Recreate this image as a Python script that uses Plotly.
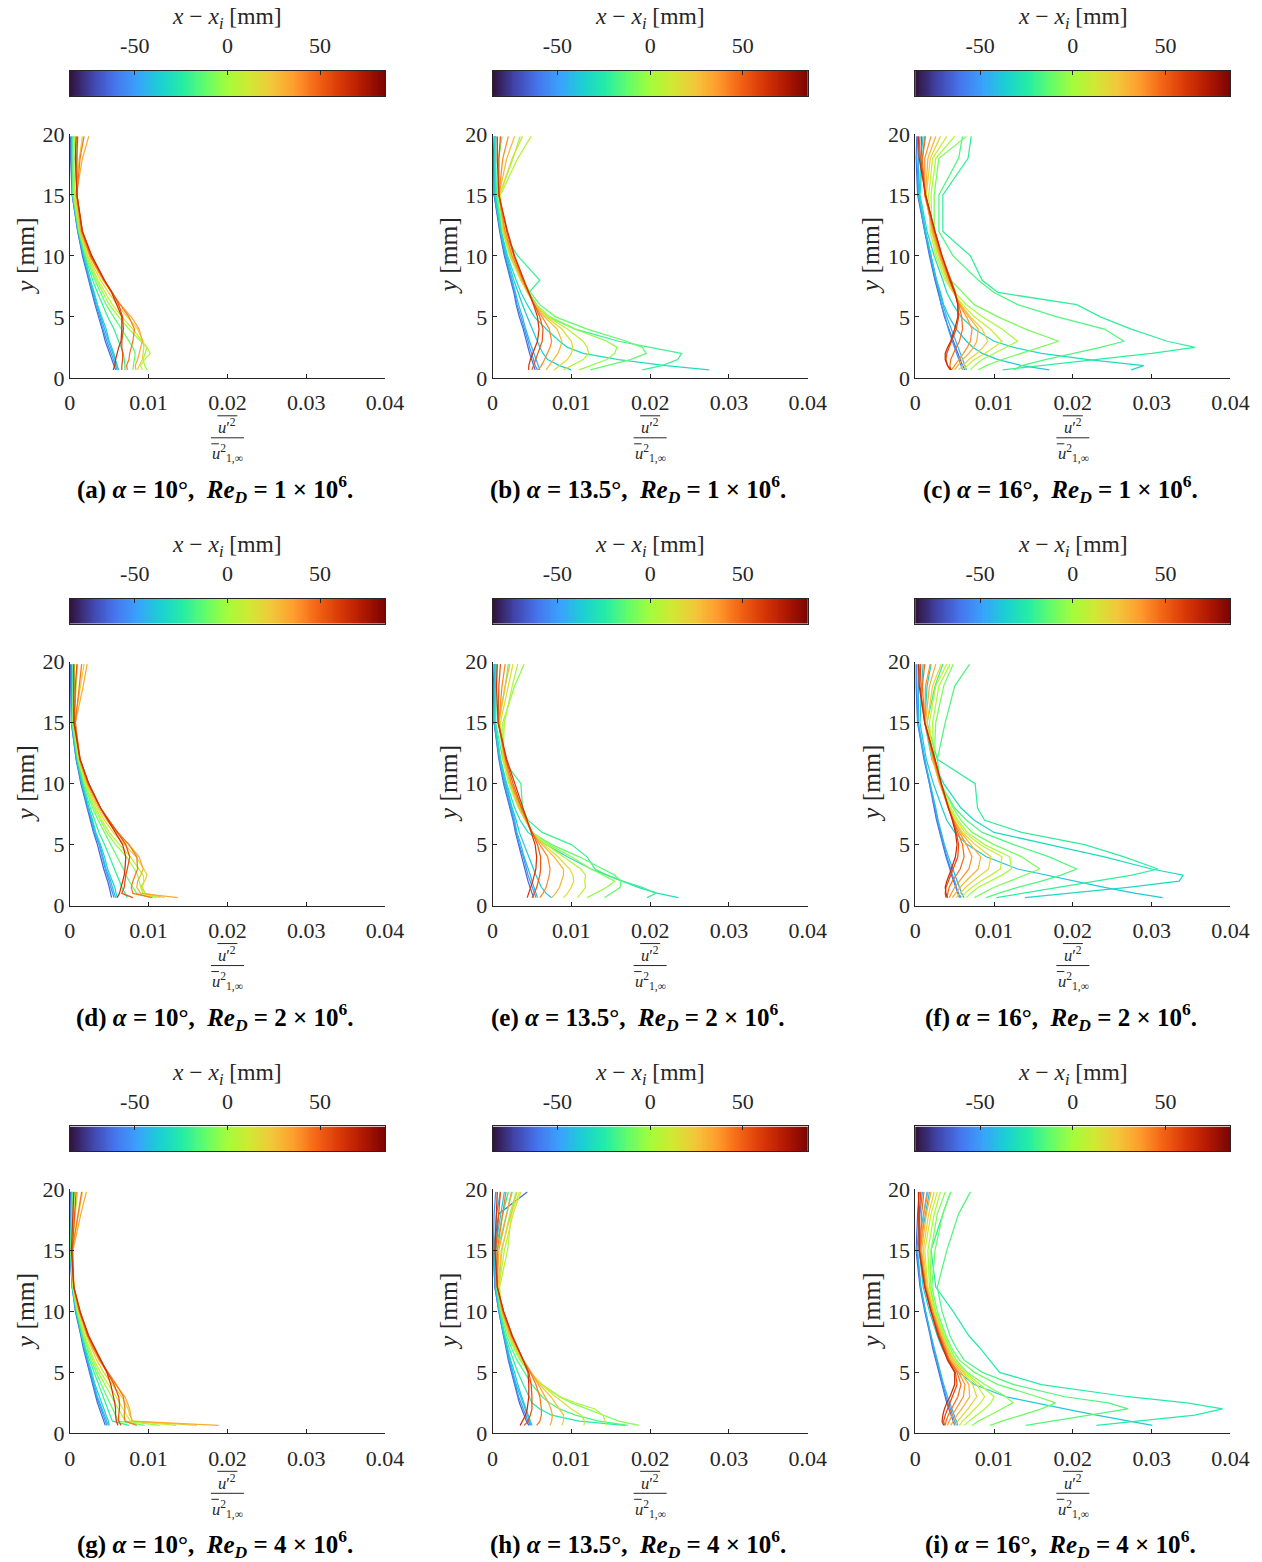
import numpy as np
import plotly.graph_objects as go
from plotly.colors import sample_colorscale

# page layout: positions below are given in page pixels and mapped onto the
# figure canvas with a linear placement (scale, offset) per direction
PAGE_SX, PAGE_OX = 0.980, 5.2
PAGE_SY, PAGE_OY = 0.9846, 11.0
W, H = 1283, 1576
SERIF = "Liberation Serif"
INK = "#262626"

# wall-normal stations shared by all profiles [mm]
y_mm = [0.65, 1.0, 1.5, 2.0, 2.5, 3.0, 4.0, 5.0, 6.0, 7.0, 8.0, 10.0, 12.0, 15.0, 18.0, 19.8]

# colour variable range x - x_i [mm]
xi_min, xi_max = -85, 85
cb_ticks = [-50, 0, 50]
cb_ticktext = ["-50", "0", "50"]
x_ticks = [0, 0.01, 0.02, 0.03, 0.04]
x_ticktext = ["0", "0.01", "0.02", "0.03", "0.04"]
y_ticks = [0, 5, 10, 15, 20]

# ---- profiles of u'^2 / u_inf^2, stored in units of 1e-3 ----
# (a) alpha = 10 deg, Re_D = 1e6
pos_a = [-64, -52, -43, -34, -22, -12, -2, 8, 20, 32, 44, 54, 64]
u2_a = [
    [5.8, 5.6, 5.3, 5.0, 4.8, 4.5, 4.1, 3.6, 3.2, 2.8, 2.4, 1.6, 1.0, 0.3, 0.1, 0.1],
    [6.0, 5.8, 5.5, 5.2, 4.9, 4.7, 4.2, 3.8, 3.3, 2.9, 2.5, 1.7, 1.0, 0.3, 0.2, 0.2],
    [6.2, 6.0, 5.7, 5.4, 5.1, 4.9, 4.4, 3.9, 3.4, 3.0, 2.6, 1.8, 1.1, 0.4, 0.3, 0.3],
    [6.0, 6.0, 5.8, 5.6, 5.3, 5.0, 4.6, 4.0, 3.5, 3.1, 2.6, 1.8, 1.1, 0.4, 0.9, 0.5],
    [7.0, 7.0, 6.9, 6.8, 6.5, 6.2, 5.6, 4.8, 4.1, 3.5, 2.9, 1.9, 1.1, 0.4, 0.3, 0.3],
    [8.0, 8.1, 8.2, 8.3, 8.0, 7.5, 6.6, 5.6, 4.6, 3.9, 3.2, 2.0, 1.2, 0.4, 0.4, 0.4],
    [9.8, 9.5, 9.3, 9.6, 9.8, 9.0, 7.5, 6.2, 5.0, 4.2, 3.4, 2.1, 1.2, 0.5, 0.5, 0.6],
    [9.2, 9.0, 9.5, 10.2, 9.8, 9.2, 8.0, 6.6, 5.4, 4.5, 3.6, 2.2, 1.3, 0.6, 0.7, 0.9],
    [8.6, 8.8, 9.2, 9.3, 9.4, 9.3, 8.6, 7.3, 6.0, 4.9, 3.9, 2.3, 1.3, 0.7, 1.2, 1.6],
    [8.4, 8.3, 8.6, 8.8, 9.0, 9.2, 8.8, 7.8, 6.4, 5.3, 4.2, 2.5, 1.4, 0.8, 1.6, 2.4],
    [7.3, 7.2, 7.5, 7.6, 7.8, 8.0, 8.2, 7.5, 6.4, 5.4, 4.3, 2.6, 1.5, 0.9, 1.3, 1.8],
    [6.6, 6.6, 6.7, 6.7, 6.6, 6.6, 6.8, 6.7, 6.2, 5.4, 4.4, 2.7, 1.6, 0.9, 0.9, 1.0],
    [5.5, 5.7, 5.8, 6.0, 6.2, 6.5, 6.6, 6.6, 6.0, 5.3, 4.4, 2.8, 1.6, 0.9, 0.7, 0.8],
]

# (b) alpha = 13.5 deg, Re_D = 1e6
pos_b = [-64, -52, -43, -38, -30, -20, -12, -4, 6, 16, 28, 40, 52, 62]
u2_b = [
    [5.4, 5.2, 5.0, 4.7, 4.5, 4.3, 3.9, 3.4, 3.0, 2.7, 2.3, 1.5, 0.9, 0.2, 0.1, 0.2],
    [5.7, 5.4, 5.2, 4.9, 4.7, 4.5, 4.0, 3.6, 3.1, 2.8, 2.4, 1.6, 1.0, 0.2, 0.2, 0.3],
    [6.0, 5.8, 5.5, 5.2, 5.0, 4.7, 4.2, 3.8, 3.3, 2.9, 2.5, 1.7, 1.0, 0.3, 0.3, 0.4],
    [10.0, 8.5, 7.0, 6.4, 6.0, 5.7, 5.0, 4.4, 3.8, 3.2, 2.7, 1.8, 1.1, 0.3, 0.3, 0.3],
    [27.5, 22.0, 16.0, 11.5, 9.5, 8.5, 6.8, 5.3, 4.4, 3.6, 3.0, 1.9, 1.1, 0.4, 0.3, 0.3],
    [19.0, 21.5, 23.5, 24.0, 20.0, 16.0, 10.5, 7.0, 5.6, 4.6, 6.0, 3.2, 1.2, 0.5, 0.4, 0.4],
    [12.4, 14.5, 17.5, 19.5, 19.0, 17.0, 12.0, 8.0, 6.0, 4.8, 3.8, 2.3, 1.3, 0.6, 0.8, 1.2],
    [11.0, 12.5, 14.5, 15.5, 15.8, 14.5, 10.5, 7.3, 5.5, 4.5, 3.6, 2.2, 1.3, 0.9, 2.6, 3.5],
    [9.0, 10.0, 11.5, 12.2, 12.0, 11.5, 9.5, 7.0, 5.5, 4.5, 3.6, 2.2, 1.3, 1.0, 3.2, 4.9],
    [7.8, 8.5, 9.5, 10.0, 10.2, 10.0, 8.8, 6.8, 5.4, 4.4, 3.6, 2.3, 1.4, 0.9, 2.5, 3.8],
    [6.8, 7.2, 7.8, 8.3, 8.6, 8.8, 8.2, 6.6, 5.4, 4.5, 3.7, 2.4, 1.5, 0.8, 1.8, 2.8],
    [5.8, 6.2, 6.6, 7.0, 7.3, 7.5, 7.2, 6.3, 5.3, 4.5, 3.8, 2.5, 1.6, 0.8, 1.3, 2.0],
    [5.0, 5.2, 5.5, 5.8, 6.1, 6.3, 6.4, 6.0, 5.3, 4.6, 3.9, 2.7, 1.8, 0.8, 0.8, 1.0],
    [4.6, 4.6, 4.8, 5.1, 5.4, 5.7, 5.9, 5.7, 5.2, 4.6, 3.9, 2.8, 1.9, 0.8, 0.6, 0.6],
]

# (c) alpha = 16 deg, Re_D = 1e6
pos_c = [-64, -52, -43, -38, -32, -22, -16, -8, 0, 10, 20, 30, 38, 46, 55, 65]
u2_c = [
    [6.3, 6.0, 5.7, 5.4, 5.1, 4.8, 4.3, 3.7, 3.3, 2.9, 2.5, 1.8, 1.2, 0.3, 0.1, 0.2],
    [6.0, 5.8, 5.5, 5.2, 5.0, 4.7, 4.2, 3.8, 3.3, 3.0, 2.6, 1.9, 1.2, 0.4, 0.2, 0.3],
    [6.5, 6.3, 6.0, 5.7, 5.4, 5.1, 4.5, 4.0, 3.5, 3.1, 2.7, 2.0, 1.3, 0.4, 0.4, 0.6],
    [17.0, 13.5, 10.5, 8.5, 7.3, 6.5, 5.2, 4.3, 3.6, 3.2, 2.7, 2.0, 1.3, 0.5, 0.7, 1.0],
    [27.4, 29.0, 22.0, 16.0, 12.5, 10.0, 7.5, 5.8, 4.8, 4.0, 3.5, 2.4, 1.5, 0.6, 0.9, 1.2],
    [11.1, 15.6, 22.8, 30.0, 35.5, 32.0, 27.4, 23.5, 20.5, 10.5, 8.5, 7.0, 3.5, 3.5, 6.7, 7.1],
    [12.5, 13.5, 16.5, 20.0, 23.5, 26.5, 24.0, 18.0, 13.0, 10.0, 8.0, 4.8, 3.0, 3.0, 5.5, 6.0],
    [8.0, 9.0, 11.0, 13.5, 16.0, 18.2, 14.0, 10.5, 7.5, 6.0, 4.5, 3.2, 2.4, 2.4, 3.0, 6.5],
    [7.0, 7.5, 8.5, 10.0, 11.5, 13.0, 11.0, 8.5, 6.5, 5.0, 4.0, 2.8, 2.1, 2.0, 2.6, 5.0],
    [6.0, 6.6, 7.5, 8.8, 10.0, 11.0, 9.5, 7.5, 6.0, 4.8, 3.8, 2.6, 1.9, 1.7, 2.2, 4.0],
    [5.5, 6.0, 6.8, 7.8, 8.6, 9.2, 8.5, 7.0, 5.8, 4.9, 4.1, 3.0, 2.1, 1.4, 1.9, 3.2],
    [5.0, 5.4, 6.0, 6.8, 7.4, 7.8, 8.0, 6.8, 5.7, 4.9, 4.2, 3.1, 2.2, 1.3, 1.6, 2.6],
    [4.6, 5.0, 5.5, 6.1, 6.6, 7.0, 7.2, 6.5, 5.6, 4.9, 4.3, 3.2, 2.3, 1.2, 1.2, 2.0],
    [4.5, 4.4, 4.5, 4.8, 5.2, 5.6, 6.0, 5.9, 5.5, 5.0, 4.4, 3.3, 2.4, 1.2, 0.9, 1.3],
    [4.4, 4.1, 3.9, 4.0, 4.3, 4.6, 5.2, 5.5, 5.4, 5.1, 4.5, 3.4, 2.5, 1.3, 0.7, 0.8],
    [4.6, 4.1, 3.8, 3.8, 4.1, 4.5, 5.0, 5.4, 5.4, 5.0, 4.4, 3.4, 2.5, 1.3, 0.5, 0.4],
]

# (d) alpha = 10 deg, Re_D = 2e6
pos_d = [-64, -52, -43, -34, -22, -12, -2, 8, 20, 32, 44, 54, 64]
u2_d = [
    [5.3, 5.2, 5.0, 4.8, 4.5, 4.3, 3.9, 3.5, 3.0, 2.6, 2.2, 1.4, 0.8, 0.2, 0.1, 0.1],
    [5.6, 5.4, 5.2, 5.0, 4.7, 4.5, 4.1, 3.7, 3.1, 2.7, 2.3, 1.5, 0.8, 0.2, 0.2, 0.2],
    [5.8, 5.6, 5.4, 5.2, 4.9, 4.6, 4.2, 3.8, 3.2, 2.8, 2.4, 1.5, 0.9, 0.3, 0.3, 0.4],
    [6.0, 5.9, 5.7, 5.4, 5.1, 4.8, 4.4, 3.9, 3.3, 2.9, 2.4, 1.6, 0.9, 0.3, 0.5, 0.6],
    [7.3, 7.0, 6.6, 6.3, 6.0, 5.6, 5.0, 4.4, 3.7, 3.1, 2.6, 1.7, 1.0, 0.3, 0.4, 0.5],
    [10.3, 8.5, 8.0, 7.5, 7.1, 6.8, 6.0, 5.2, 4.3, 3.6, 2.9, 1.8, 1.0, 0.3, 0.4, 0.4],
    [11.0, 9.3, 9.0, 8.8, 8.6, 8.2, 7.2, 5.8, 4.7, 3.9, 3.1, 1.9, 1.1, 0.4, 0.5, 0.6],
    [11.5, 9.6, 9.2, 9.4, 9.3, 8.8, 7.7, 6.3, 5.0, 4.1, 3.3, 2.0, 1.1, 0.5, 0.8, 1.0],
    [12.0, 9.6, 9.0, 9.5, 9.8, 9.4, 8.4, 6.9, 5.5, 4.4, 3.5, 2.1, 1.2, 0.6, 1.4, 1.8],
    [13.7, 9.0, 8.5, 8.6, 9.0, 9.3, 8.8, 7.5, 5.9, 4.7, 3.7, 2.2, 1.2, 0.7, 1.7, 2.2],
    [10.5, 8.0, 7.8, 8.0, 8.3, 8.6, 8.5, 7.5, 6.1, 4.9, 3.9, 2.3, 1.3, 0.7, 1.2, 1.5],
    [8.0, 6.6, 6.9, 7.0, 7.1, 7.3, 7.6, 7.1, 6.0, 4.9, 3.9, 2.4, 1.3, 0.6, 0.7, 0.9],
    [6.0, 6.3, 6.5, 6.7, 6.9, 7.0, 7.1, 6.7, 5.8, 4.9, 3.9, 2.4, 1.3, 0.5, 0.5, 0.5],
]

# (e) alpha = 13.5 deg, Re_D = 2e6
pos_e = [-64, -52, -43, -38, -30, -20, -12, -4, 6, 16, 28, 40, 52, 62]
u2_e = [
    [5.2, 5.0, 4.7, 4.5, 4.3, 4.1, 3.7, 3.3, 2.9, 2.6, 2.2, 1.4, 0.8, 0.2, 0.1, 0.2],
    [5.5, 5.3, 5.0, 4.8, 4.5, 4.3, 3.9, 3.4, 3.0, 2.7, 2.3, 1.5, 0.9, 0.2, 0.2, 0.3],
    [5.7, 5.5, 5.3, 5.0, 4.8, 4.5, 4.0, 3.6, 3.1, 2.8, 2.4, 1.6, 0.9, 0.2, 0.3, 0.4],
    [7.5, 6.8, 6.2, 5.8, 5.5, 5.2, 4.6, 4.0, 3.4, 3.0, 2.5, 1.7, 1.0, 0.3, 0.3, 0.3],
    [23.6, 21.0, 18.5, 16.5, 14.5, 12.5, 9.5, 6.8, 4.5, 3.5, 2.8, 1.8, 1.0, 0.3, 0.4, 0.4],
    [19.6, 20.7, 19.0, 16.5, 14.5, 13.0, 12.0, 10.0, 6.3, 4.5, 3.8, 3.6, 1.3, 0.4, 0.5, 0.5],
    [14.2, 15.0, 16.2, 16.3, 15.5, 14.0, 11.0, 7.5, 5.0, 4.2, 3.6, 2.4, 1.4, 0.8, 1.6, 2.0],
    [12.0, 13.0, 14.5, 15.5, 14.0, 12.5, 10.0, 7.2, 5.0, 4.1, 3.3, 2.1, 1.3, 1.3, 2.8, 4.0],
    [10.8, 11.2, 11.8, 11.7, 11.8, 11.2, 9.0, 6.8, 5.0, 4.1, 3.3, 2.1, 1.3, 1.5, 2.5, 3.2],
    [9.0, 9.5, 10.0, 10.3, 10.2, 9.8, 8.3, 6.5, 5.0, 4.2, 3.4, 2.2, 1.4, 1.0, 2.0, 2.6],
    [7.5, 8.0, 8.5, 8.8, 9.0, 9.0, 7.8, 6.3, 5.0, 4.2, 3.4, 2.3, 1.5, 0.8, 1.6, 2.2],
    [6.0, 6.4, 6.8, 7.0, 7.2, 7.3, 7.0, 6.0, 5.0, 4.3, 3.6, 2.4, 1.6, 0.8, 1.2, 1.6],
    [5.0, 5.3, 5.6, 5.8, 6.0, 6.1, 6.1, 5.7, 5.0, 4.4, 3.7, 2.6, 1.7, 0.7, 0.8, 1.0],
    [4.4, 4.6, 4.9, 5.1, 5.3, 5.5, 5.6, 5.4, 4.9, 4.4, 3.8, 2.8, 1.8, 0.7, 0.5, 0.6],
]

# (f) alpha = 16 deg, Re_D = 2e6
pos_f = [-64, -52, -43, -38, -32, -22, -16, -8, 0, 10, 20, 30, 38, 46, 55, 65]
u2_f = [
    [5.6, 5.4, 5.1, 4.9, 4.6, 4.4, 3.9, 3.5, 3.1, 2.7, 2.4, 1.8, 1.1, 0.3, 0.1, 0.1],
    [5.8, 5.5, 5.2, 5.0, 4.7, 4.5, 4.0, 3.6, 3.2, 2.8, 2.5, 1.8, 1.2, 0.3, 0.2, 0.2],
    [6.2, 5.9, 5.6, 5.3, 5.0, 4.8, 4.2, 3.7, 3.3, 2.9, 2.6, 1.9, 1.2, 0.4, 0.4, 0.6],
    [31.4, 28.0, 24.0, 20.2, 16.5, 13.0, 9.0, 6.6, 5.0, 4.0, 3.4, 2.3, 1.4, 0.6, 0.8, 1.0],
    [13.9, 19.5, 27.0, 33.5, 34.0, 30.0, 24.0, 17.0, 10.0, 7.5, 5.8, 3.6, 2.1, 1.2, 1.5, 2.0],
    [10.3, 13.5, 18.0, 23.0, 27.5, 30.8, 26.5, 21.5, 13.5, 8.8, 7.9, 7.6, 2.8, 1.5, 2.5, 3.5],
    [9.0, 10.5, 13.0, 16.0, 18.5, 20.5, 17.0, 12.5, 8.5, 6.5, 5.0, 3.2, 2.8, 3.8, 5.0, 6.9],
    [7.5, 8.5, 10.0, 12.0, 14.0, 15.8, 13.5, 10.0, 7.2, 5.8, 4.8, 3.2, 2.4, 2.6, 3.6, 4.8],
    [6.5, 7.0, 8.0, 9.5, 11.0, 12.2, 12.0, 8.8, 6.6, 5.4, 4.5, 3.1, 2.3, 2.2, 3.0, 4.4],
    [5.8, 6.3, 7.2, 8.3, 9.6, 10.8, 11.0, 8.2, 6.3, 5.2, 4.4, 3.1, 2.2, 1.8, 2.6, 4.0],
    [5.2, 5.7, 6.4, 7.3, 8.3, 9.3, 9.6, 7.6, 6.0, 5.0, 4.3, 3.1, 2.2, 1.5, 2.2, 3.3],
    [4.7, 5.1, 5.7, 6.4, 7.2, 8.0, 8.3, 7.0, 5.8, 4.9, 4.2, 3.1, 2.2, 1.3, 1.8, 2.6],
    [4.3, 4.6, 5.0, 5.6, 6.2, 6.8, 7.2, 6.5, 5.6, 4.8, 4.2, 3.2, 2.3, 1.2, 1.3, 1.9],
    [4.0, 4.1, 4.3, 4.7, 5.2, 5.7, 6.2, 6.0, 5.4, 4.8, 4.2, 3.3, 2.4, 1.2, 0.9, 1.2],
    [3.9, 3.8, 3.9, 4.2, 4.5, 4.9, 5.4, 5.5, 5.2, 4.8, 4.2, 3.3, 2.5, 1.2, 0.6, 0.7],
    [4.1, 3.9, 3.8, 4.0, 4.3, 4.6, 5.1, 5.3, 5.1, 4.7, 4.2, 3.3, 2.5, 1.2, 0.5, 0.4],
]

# (g) alpha = 10 deg, Re_D = 4e6
pos_g = [-64, -52, -43, -34, -22, -12, -2, 8, 20, 32, 44, 54, 64]
u2_g = [
    [4.5, 4.3, 4.0, 3.8, 3.5, 3.3, 2.9, 2.5, 2.1, 1.7, 1.4, 0.7, 0.3, 0.0, 0.0, 0.1],
    [4.7, 4.5, 4.2, 3.9, 3.6, 3.4, 3.0, 2.6, 2.2, 1.8, 1.5, 0.8, 0.3, 0.1, 0.1, 0.2],
    [4.9, 4.7, 4.4, 4.1, 3.8, 3.5, 3.1, 2.7, 2.3, 1.9, 1.5, 0.8, 0.3, 0.1, 0.2, 0.3],
    [5.0, 4.9, 4.6, 4.3, 4.0, 3.7, 3.2, 2.8, 2.3, 1.9, 1.5, 0.8, 0.3, 0.1, 0.2, 0.3],
    [7.5, 5.4, 5.1, 4.8, 4.5, 4.2, 3.6, 3.0, 2.5, 2.0, 1.6, 0.9, 0.4, 0.1, 0.2, 0.3],
    [9.5, 6.2, 5.8, 5.4, 5.0, 4.7, 4.0, 3.3, 2.7, 2.2, 1.7, 0.9, 0.4, 0.1, 0.3, 0.4],
    [11.4, 7.0, 6.6, 6.1, 5.7, 5.3, 4.4, 3.6, 2.9, 2.3, 1.8, 1.0, 0.4, 0.2, 0.4, 0.6],
    [13.5, 7.7, 7.2, 6.7, 6.3, 5.9, 4.9, 3.9, 3.1, 2.5, 1.9, 1.0, 0.4, 0.2, 0.7, 1.0],
    [16.1, 8.0, 7.6, 7.4, 7.0, 6.6, 5.4, 4.3, 3.4, 2.7, 2.1, 1.1, 0.5, 0.3, 1.1, 1.6],
    [18.9, 7.9, 7.7, 7.6, 7.3, 7.0, 5.8, 4.7, 3.7, 2.9, 2.2, 1.2, 0.5, 0.4, 1.4, 2.1],
    [8.5, 7.0, 6.9, 7.0, 6.9, 6.8, 5.9, 4.8, 3.8, 3.0, 2.3, 1.2, 0.5, 0.3, 1.0, 1.5],
    [6.5, 6.2, 6.2, 6.3, 6.3, 6.2, 5.6, 4.8, 3.9, 3.1, 2.3, 1.3, 0.5, 0.3, 0.6, 0.8],
    [6.1, 5.9, 5.8, 5.8, 5.7, 5.5, 5.2, 4.7, 3.9, 3.1, 2.4, 1.3, 0.5, 0.2, 0.4, 0.5],
]

# (h) alpha = 13.5 deg, Re_D = 4e6
pos_h = [-64, -52, -43, -36, -24, -16, -6, 4, 14, 24, 34, 44, 54, 64]
u2_h = [
    [4.6, 4.3, 4.0, 3.7, 3.4, 3.2, 2.8, 2.4, 2.0, 1.7, 1.4, 0.8, 0.3, 0.1, 0.8, 4.4],
    [4.8, 4.5, 4.2, 3.9, 3.6, 3.3, 2.9, 2.5, 2.1, 1.8, 1.4, 0.8, 0.3, 0.1, 0.2, 0.4],
    [4.9, 4.7, 4.4, 4.1, 3.8, 3.5, 3.0, 2.6, 2.2, 1.8, 1.5, 0.9, 0.4, 0.2, 0.5, 1.0],
    [5.0, 4.8, 4.6, 4.3, 4.0, 3.7, 3.2, 2.8, 2.3, 1.9, 1.5, 0.9, 0.4, 0.3, 1.0, 1.5],
    [16.8, 11.0, 7.5, 6.0, 5.0, 4.6, 3.9, 3.2, 2.6, 2.1, 1.6, 0.9, 0.5, 0.4, 1.3, 2.0],
    [17.2, 13.5, 10.5, 8.5, 7.2, 6.3, 5.0, 4.0, 3.1, 2.4, 1.8, 1.0, 0.5, 0.6, 1.8, 2.5],
    [18.6, 16.0, 14.0, 12.0, 10.0, 8.5, 6.2, 4.6, 3.5, 2.7, 2.0, 1.1, 0.8, 1.2, 2.2, 3.0],
    [14.5, 14.3, 14.0, 13.0, 10.5, 8.6, 6.3, 4.8, 3.6, 2.8, 2.1, 1.1, 0.9, 1.9, 2.4, 3.4],
    [11.6, 11.7, 11.2, 10.0, 9.0, 8.0, 6.2, 4.8, 3.7, 2.9, 2.1, 1.2, 0.8, 1.5, 2.6, 3.6],
    [8.8, 9.0, 9.0, 8.5, 8.0, 7.4, 6.0, 4.9, 3.8, 3.0, 2.2, 1.2, 0.7, 1.1, 2.3, 3.1],
    [7.3, 7.5, 7.6, 7.4, 7.1, 6.7, 5.8, 4.9, 3.9, 3.1, 2.3, 1.2, 0.6, 0.8, 1.8, 2.4],
    [5.6, 6.0, 6.2, 6.2, 6.1, 6.0, 5.5, 4.8, 3.9, 3.1, 2.4, 1.3, 0.6, 0.6, 1.3, 1.7],
    [4.0, 4.5, 4.8, 5.0, 5.0, 5.0, 4.9, 4.6, 3.9, 3.2, 2.5, 1.4, 0.6, 0.4, 0.8, 1.0],
    [3.5, 3.8, 4.2, 4.4, 4.5, 4.6, 4.6, 4.5, 3.9, 3.2, 2.5, 1.4, 0.6, 0.3, 0.5, 0.6],
]

# (i) alpha = 16 deg, Re_D = 4e6
pos_i = [-64, -52, -43, -38, -24, -16, -10, -6, 0, 10, 20, 30, 38, 46, 55, 65]
u2_i = [
    [5.0, 4.8, 4.5, 4.3, 4.0, 3.8, 3.4, 3.0, 2.6, 2.2, 1.9, 1.2, 0.6, 0.1, 0.3, 0.5],
    [5.2, 5.0, 4.7, 4.4, 4.1, 3.9, 3.5, 3.1, 2.7, 2.3, 2.0, 1.3, 0.7, 0.2, 0.6, 0.9],
    [5.4, 5.2, 4.9, 4.6, 4.3, 4.1, 3.6, 3.2, 2.8, 2.4, 2.0, 1.3, 0.7, 0.3, 1.0, 1.5],
    [30.1, 27.0, 23.0, 19.0, 15.0, 11.5, 7.5, 5.5, 4.2, 3.4, 2.8, 1.8, 1.0, 0.5, 1.3, 1.8],
    [23.0, 28.0, 35.5, 39.0, 34.5, 27.0, 16.0, 10.7, 9.5, 8.2, 6.8, 4.8, 2.6, 2.0, 3.5, 4.5],
    [14.0, 17.5, 22.5, 27.0, 24.5, 19.0, 12.5, 8.5, 6.2, 5.2, 4.4, 3.4, 2.8, 4.0, 5.5, 7.0],
    [9.5, 11.0, 13.5, 16.0, 17.8, 15.5, 10.5, 7.5, 5.6, 4.6, 3.9, 2.8, 2.1, 2.5, 3.5, 4.5],
    [7.2, 8.0, 9.5, 11.0, 12.4, 11.5, 8.8, 6.6, 5.2, 4.4, 3.7, 2.6, 1.9, 2.0, 2.8, 3.8],
    [6.2, 6.8, 7.8, 8.8, 9.6, 10.0, 8.2, 6.4, 5.0, 4.2, 3.6, 2.5, 1.8, 1.6, 2.4, 3.2],
    [5.6, 6.0, 6.8, 7.6, 8.3, 8.8, 7.8, 6.2, 4.9, 4.1, 3.5, 2.4, 1.6, 1.2, 2.0, 2.8],
    [5.0, 5.4, 6.0, 6.7, 7.3, 7.8, 7.3, 6.0, 4.8, 4.0, 3.4, 2.3, 1.5, 1.0, 1.7, 2.4],
    [4.5, 4.8, 5.3, 5.9, 6.4, 6.9, 6.8, 5.8, 4.6, 3.9, 3.3, 2.2, 1.4, 0.8, 1.4, 2.0],
    [4.1, 4.3, 4.7, 5.2, 5.7, 6.1, 6.3, 5.5, 4.4, 3.8, 3.2, 2.2, 1.3, 0.7, 1.1, 1.6],
    [3.8, 3.9, 4.2, 4.6, 5.0, 5.4, 5.8, 5.3, 4.3, 3.7, 3.1, 2.1, 1.3, 0.6, 0.8, 1.1],
    [3.7, 3.6, 3.8, 4.1, 4.4, 4.8, 5.3, 5.1, 4.2, 3.6, 3.0, 2.0, 1.2, 0.5, 0.5, 0.7],
    [3.6, 3.4, 3.5, 3.7, 4.0, 4.4, 5.0, 5.0, 4.1, 3.5, 2.9, 2.0, 1.2, 0.5, 0.4, 0.4],
]

panel_letters = ["a", "b", "c", "d", "e", "f", "g", "h", "i"]
alpha_labels = ["10", "13.5", "16"]
re_labels = ["1", "2", "4"]
panels = [(pos_a, u2_a), (pos_b, u2_b), (pos_c, u2_c),
          (pos_d, u2_d), (pos_e, u2_e), (pos_f, u2_f),
          (pos_g, u2_g), (pos_h, u2_h), (pos_i, u2_i)]

# ---- page geometry (pixels on the page) ----
col_px = [(69, 384), (491.5, 806.5), (914, 1229)]
row_px = [(133, 377), (661, 905), (1189, 1433)]
cb_px = [(70, 95), (598, 623), (1126, 1151)]
ROW_STEP = 528


def fx(p):
    return (p - PAGE_OX) / PAGE_SX / W


def fy(p):
    return 1 - (p - PAGE_OY) / PAGE_SY / H


def axname(prefix, k):
    return prefix if k == 1 else f"{prefix}{k}"


def label(x, y, text, size, anchor="center", color=INK, angle=0, pad=1):
    return dict(x=fx(x), y=fy(y), xref="paper", yref="paper", text=text,
                showarrow=False, xanchor=anchor, yanchor="middle",
                textangle=angle, borderpad=pad,
                font=dict(family=SERIF, size=size, color=color))


fig = go.Figure()
layout = dict(
    width=W, height=H, autosize=False,
    margin=dict(l=0, r=0, t=0, b=0),
    paper_bgcolor="white", plot_bgcolor="white",
    showlegend=False,
    font=dict(family=SERIF, size=22, color=INK),
)
shapes, annotations = [], []

cb_x = np.linspace(xi_min, xi_max, 341)
tick_font = dict(family=SERIF, size=22, color=INK)

for idx, (pos, prof) in enumerate(panels):
    r, c = divmod(idx, 3)
    k, kc = idx + 1, idx + 10
    xa, ya = axname("x", k), axname("y", k)
    xc, yc = axname("x", kc), axname("y", kc)
    x0, x1 = col_px[c]
    y0, y1 = row_px[r]
    cy0, cy1 = cb_px[r]
    cx = 0.5 * (x0 + x1)
    dy = ROW_STEP * r

    # profiles, coloured by streamwise station
    frac = [(p - xi_min) / (xi_max - xi_min) for p in pos]
    cols = sample_colorscale("Turbo", frac)
    for p, vals, col in sorted(zip(pos, prof, cols), key=lambda t: t[0]):
        fig.add_trace(go.Scatter(
            x=np.asarray(vals) * 1e-3, y=y_mm, mode="lines",
            line=dict(color=col, width=1.25),
            xaxis=xa, yaxis=ya, hoverinfo="skip"))

    # colour bar strip
    fig.add_trace(go.Heatmap(
        x=cb_x, y=[0], z=[cb_x], colorscale="Turbo",
        zmin=xi_min, zmax=xi_max, showscale=False,
        xaxis=xc, yaxis=yc, hoverinfo="skip"))

    layout[axname("xaxis", k)] = dict(
        domain=[fx(x0), fx(x1)], anchor=ya, range=[0, 0.04],
        tickvals=x_ticks, ticktext=x_ticktext,
        ticks="inside", ticklen=4, tickcolor=INK, tickwidth=1,
        showline=True, linecolor=INK, linewidth=1,
        showgrid=False, zeroline=False, tickfont=tick_font,
        ticklabelstandoff=5)
    layout[axname("yaxis", k)] = dict(
        domain=[fy(y1), fy(y0)], anchor=xa, range=[0, 20],
        tickvals=y_ticks, ticks="inside", ticklen=4, tickcolor=INK,
        tickwidth=1, showline=True, linecolor=INK, linewidth=1,
        showgrid=False, zeroline=False, tickfont=tick_font)

    layout[axname("xaxis", kc)] = dict(
        domain=[fx(x0), fx(x1)], anchor=yc, range=[xi_min, xi_max],
        side="top", tickvals=cb_ticks, ticktext=cb_ticktext,
        ticks="inside", ticklen=4, tickcolor=INK, tickwidth=1,
        showline=True, mirror=True, linecolor=INK, linewidth=1,
        showgrid=False, zeroline=False, tickfont=tick_font,
        ticklabelstandoff=8)
    layout[axname("yaxis", kc)] = dict(
        domain=[fy(cy1), fy(cy0)], anchor=xc, range=[-0.5, 0.5],
        showticklabels=False, ticks="", showline=True, mirror=True,
        linecolor=INK, linewidth=1, showgrid=False, zeroline=False)

    # colour bar title
    annotations.append(label(cx, 17 + dy,
                             "<i>x</i> − <i>x<sub>i</sub></i> [mm]", 23.5))

    # y-axis title
    annotations.append(label(x0 - 44, 0.5 * (y0 + y1), "<i>y</i> [mm]",
                             25.5, angle=-90))

    # x-axis title: normalised streamwise Reynolds stress as a fraction
    annotations.append(label(cx, 426 + dy, "<i>u</i>′<sup>2</sup>", 16.5,
                             pad=0))
    annotations.append(label(cx - 16, 453 + dy,
                             "<i>u</i><sup>2</sup><sub>1,∞</sub>", 16.5,
                             anchor="left", pad=0))
    for (xa0, xa1, yy) in [(cx - 16.5, cx + 16.5, 437),
                           (cx - 10, cx + 10, 415),
                           (cx - 16, cx - 8.5, 443)]:
        shapes.append(dict(
            type="line", xref="paper", yref="paper",
            x0=fx(xa0), x1=fx(xa1), y0=fy(yy + dy), y1=fy(yy + dy),
            line=dict(color=INK, width=1)))

    # sub-figure caption
    letter = panel_letters[idx]
    cap = (f"<b>({letter}) <i>α</i> = {alpha_labels[c]}°,\u00a0 "
           f"<i>Re<sub>D</sub></i> = {re_labels[r]} × 10<sup>6</sup>.</b>")
    annotations.append(label(cx - 12, 488 + dy, cap, 25, color="black"))

layout["shapes"] = shapes
layout["annotations"] = annotations
fig.update_layout(**layout)

fig.write_html("out.html")
